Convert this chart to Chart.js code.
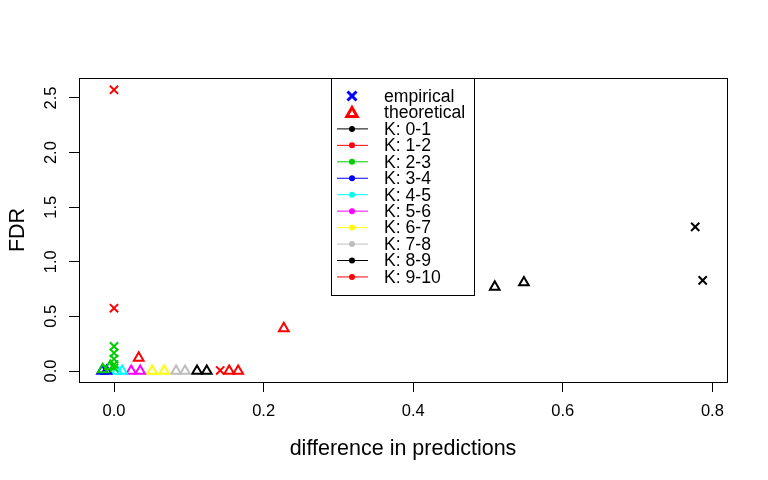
<!DOCTYPE html>
<html>
<head>
<meta charset="utf-8">
<script src="https://cdn.jsdelivr.net/npm/chart.js@4/dist/chart.umd.min.js"></script>
<style>
  html, body { margin: 0; padding: 0; background: #fff; }
  #wrap { width: 768px; height: 480px; }
</style>
</head>
<body>
<div id="wrap"><canvas id="fdrChart" width="768" height="480"></canvas></div>
<script>
// groups of K, one colour each (R default palette)
const groupLabels = ['K: 0-1', 'K: 1-2', 'K: 2-3', 'K: 3-4', 'K: 4-5', 'K: 5-6', 'K: 6-7', 'K: 7-8', 'K: 8-9', 'K: 9-10'];
const groupColors = ['#000000', '#FF0000', '#00CD00', '#0000FF', '#00FFFF', '#FF00FF', '#FFFF00', '#BEBEBE', '#000000', '#FF0000'];

// empirical FDR (crosses), per group
const empDiff = [[0.777, 0.787], [0.0, 0.0], [0.0, 0.0, 0.0, 0.0, 0.0], [], [], [], [], [], [], [0.142]];
const empFdr  = [[1.32, 0.83], [2.575, 0.575], [0.225, 0.165, 0.11, 0.06, 0.03], [], [], [], [], [], [], [0.005]];

// theoretical FDR (triangles), per group
const theoDiff = [[0.509, 0.548], [0.227, 0.033], [-0.015, -0.005], [-0.016, -0.010], [0.004, 0.011], [0.023, 0.035], [0.051, 0.067], [0.083, 0.095], [0.111, 0.124], [0.154, 0.166]];
const theoFdr  = [[0.77, 0.81], [0.39, 0.12], [0.015, 0.045], [0.0, 0.0], [0.0, 0.0], [0.0, 0.0], [0.0, 0.0], [0.0, 0.0], [0.0, 0.0], [0.0, 0.0]];

const xTicks = [0.0, 0.2, 0.4, 0.6, 0.8];
const yTicks = [0.0, 0.5, 1.0, 1.5, 2.0, 2.5];

const fontFamily = '"Liberation Sans", Arial, Helvetica, sans-serif';

function toPoints(xs, ys) {
    var pts = [];
    for (var i = 0; i < xs.length; ++i) {
        pts.push({ x: xs[i], y: ys[i] });
    }
    return pts;
}

function buildDatasets() {
    var sets = [];
    for (var g = 0; g < groupLabels.length; ++g) {
        sets.push({
            label: groupLabels[g] + ' theoretical',
            data: toPoints(theoDiff[g], theoFdr[g]),
            pointStyle: 'triangle',
            pointRadius: 5.6,
            pointBorderWidth: 2,
            borderColor: groupColors[g],
            backgroundColor: 'rgba(0,0,0,0)',
            showLine: false,
        });
        sets.push({
            label: groupLabels[g] + ' empirical',
            data: toPoints(empDiff[g], empFdr[g]),
            pointStyle: 'crossRot',
            pointRadius: 5.8,
            pointBorderWidth: 2,
            borderColor: groupColors[g],
            backgroundColor: groupColors[g],
            showLine: false,
        });
    }
    return sets;
}

// R style box around the plot region
const boxPlugin = {
    id: 'box',
    afterDatasetsDraw(chart) {
        const a = chart.chartArea;
        const ctx = chart.ctx;
        ctx.save();
        ctx.strokeStyle = '#000';
        ctx.lineWidth = 1;
        ctx.strokeRect(Math.round(a.left) + 0.5, Math.round(a.top) + 0.5, Math.round(a.right - a.left), Math.round(a.bottom - a.top));
        ctx.restore();
    }
};

function drawCross(ctx, x, y, s, color, lw) {
    ctx.strokeStyle = color;
    ctx.lineWidth = lw;
    ctx.beginPath();
    ctx.moveTo(x - s, y - s); ctx.lineTo(x + s, y + s);
    ctx.moveTo(x - s, y + s); ctx.lineTo(x + s, y - s);
    ctx.stroke();
}

function drawTriangle(ctx, x, y, r, color, lw) {
    ctx.strokeStyle = color;
    ctx.lineWidth = lw;
    ctx.beginPath();
    ctx.moveTo(x, y - r);
    ctx.lineTo(x + r * 0.866, y + r * 0.5);
    ctx.lineTo(x - r * 0.866, y + r * 0.5);
    ctx.closePath();
    ctx.stroke();
}

// legend drawn inside the plot, like R's legend("top", ...)
const legendPlugin = {
    id: 'rlegend',
    afterDraw(chart) {
        const ctx = chart.ctx;
        const left = 331, top = 78, width = 143, height = 217;
        const rowStart = 96, rowStep = 16.45;
        const markX = 352, textX = 384;
        ctx.save();
        ctx.fillStyle = '#fff';
        ctx.fillRect(left, top, width, height);
        ctx.strokeStyle = '#000';
        ctx.lineWidth = 1;
        ctx.strokeRect(left + 0.5, top + 0.5, width, height);

        ctx.font = '17.6px ' + fontFamily;
        ctx.textBaseline = 'middle';
        ctx.textAlign = 'left';

        var y = rowStart;
        drawCross(ctx, markX, y, 4.5, '#0000FF', 3);
        ctx.fillStyle = '#000';
        ctx.fillText('empirical', textX, y + 1);

        y += rowStep;
        drawTriangle(ctx, markX, y + 1, 6, '#FF0000', 3);
        ctx.fillStyle = '#000';
        ctx.fillText('theoretical', textX, y + 1);

        for (var g = 0; g < groupLabels.length; ++g) {
            y += rowStep;
            ctx.strokeStyle = groupColors[g];
            ctx.lineWidth = 1;
            ctx.beginPath();
            ctx.moveTo(337, y);
            ctx.lineTo(368, y);
            ctx.stroke();
            ctx.fillStyle = groupColors[g];
            ctx.beginPath();
            ctx.arc(markX, y, 3, 0, Math.PI * 2);
            ctx.fill();
            ctx.fillStyle = '#000';
            ctx.fillText(groupLabels[g], textX, y + 1);
        }
        ctx.restore();
    }
};

new Chart('fdrChart', {
    type: 'scatter',
    data: { datasets: buildDatasets() },
    plugins: [boxPlugin, legendPlugin],
    options: {
        responsive: false,
        animation: false,
        layout: { padding: { top: 78, right: 41, left: 0, bottom: 0 } },
        plugins: {
            legend: { display: false },
            tooltip: { enabled: false },
        },
        scales: {
            x: {
                type: 'linear',
                min: -0.0468,
                max: 0.8195,
                afterFit: function(scale) { scale.height = 98; },
                afterBuildTicks: function(scale) {
                    scale.ticks = xTicks.map(function(v) { return { value: v }; });
                },
                border: { display: false },
                grid: {
                    drawOnChartArea: false,
                    drawTicks: true,
                    tickLength: 10,
                    color: '#000',
                },
                ticks: {
                    color: '#000',
                    padding: 10,
                    maxRotation: 0,
                    font: { family: fontFamily, size: 16.5 },
                    callback: function(v) { return Number(v).toFixed(1); },
                },
                title: {
                    display: true,
                    text: 'difference in predictions',
                    color: '#000',
                    font: { family: fontFamily, size: 21.5 },
                    padding: { top: 0, bottom: 18 },
                },
            },
            y: {
                type: 'linear',
                min: -0.1007,
                max: 2.683,
                afterFit: function(scale) { scale.width = 79; },
                afterBuildTicks: function(scale) {
                    scale.ticks = yTicks.map(function(v) { return { value: v }; });
                },
                border: { display: false },
                grid: {
                    drawOnChartArea: false,
                    drawTicks: true,
                    tickLength: 10,
                    color: '#000',
                },
                ticks: {
                    color: '#000',
                    padding: 6,
                    minRotation: 90,
                    maxRotation: 90,
                    crossAlign: 'center',
                    font: { family: fontFamily, size: 16.5 },
                    callback: function(v) { return Number(v).toFixed(1); },
                },
                title: {
                    display: true,
                    text: 'FDR',
                    color: '#000',
                    font: { family: fontFamily, size: 21.5 },
                    padding: { top: 5, bottom: 0 },
                },
            },
        },
    },
});
</script>
</body>
</html>
